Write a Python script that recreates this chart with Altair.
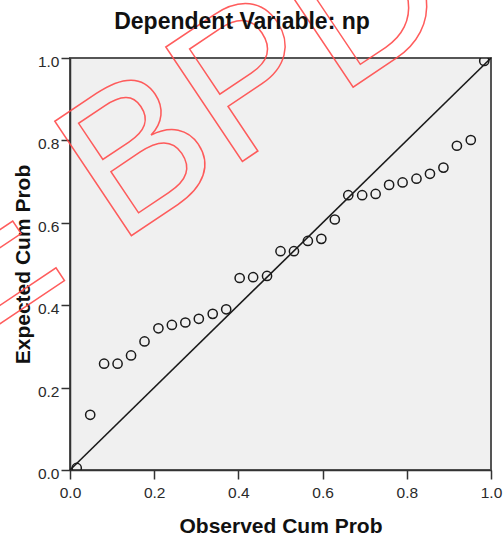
import altair as alt
import pandas as pd

# Observed cumulative probability (x) and expected cumulative probability (y)
observed = [0.016, 0.048, 0.081, 0.113, 0.145, 0.177, 0.210, 0.242, 0.274, 0.306,
            0.339, 0.371, 0.403, 0.435, 0.468, 0.500, 0.532, 0.565, 0.597, 0.629,
            0.661, 0.694, 0.726, 0.758, 0.790, 0.823, 0.855, 0.887, 0.919, 0.952,
            0.984]
expected = [0.005, 0.134, 0.258, 0.258, 0.278, 0.312, 0.344, 0.352, 0.358, 0.367,
            0.379, 0.390, 0.466, 0.468, 0.471, 0.531, 0.531, 0.556, 0.561, 0.608,
            0.667, 0.667, 0.670, 0.692, 0.698, 0.707, 0.719, 0.734, 0.787, 0.801,
            0.993]
ref_line_x = [0.0, 1.0]
ref_line_y = [0.0, 1.0]
tick_values = [0.0, 0.2, 0.4, 0.6, 0.8, 1.0]
chart_title = "Dependent Variable: np"
x_title = "Observed Cum Prob"
y_title = "Expected Cum Prob"
watermark_text = "E BPD"

pts = pd.DataFrame({"observed": observed, "expected": expected})
diag = pd.DataFrame({"observed": ref_line_x, "expected": ref_line_y})
one = pd.DataFrame({"k": [0]})

FONT = "Liberation Sans"

x_enc = alt.X(
    "observed:Q",
    scale=alt.Scale(domain=[0, 1], nice=False, zero=False),
    axis=alt.Axis(
        values=tick_values, format=".1f", title=x_title,
        tickSize=9, tickWidth=1.5, tickColor="#333333",
        labelFont=FONT, labelFontSize=15.5, labelColor="#2a2a2a",
        labelBaseline="alphabetic", labelPadding=18,
        labelFlush=False, labelOverlap=False, grid=False,
        domainColor="#333333", domainWidth=1.5,
        titleFont=FONT, titleFontSize=21, titleFontWeight="bold", titleColor="#111111",
        titleX=210.5, titleY=62.5, titleBaseline="alphabetic", titleAlign="center",
    ),
)
y_enc = alt.Y(
    "expected:Q",
    scale=alt.Scale(domain=[0, 1], nice=False, zero=False),
    axis=alt.Axis(
        values=tick_values, format=".1f", title=y_title,
        tickSize=9, tickWidth=1.5, tickColor="#333333",
        labelFont=FONT, labelFontSize=15.5, labelColor="#2a2a2a",
        labelBaseline="middle", labelAlign="right", labelPadding=2, labelOffset=3.5,
        labelFlush=False, labelOverlap=False, grid=False,
        domainColor="#333333", domainWidth=1.5,
        titleFont=FONT, titleFontSize=21, titleFontWeight="bold", titleColor="#111111",
        titleAngle=270, titleX=-41, titleY=206, titleBaseline="alphabetic", titleAlign="center",
    ),
)

points = alt.Chart(pts).mark_point(
    shape="circle", filled=False, color="#1a1a1a", strokeWidth=1.5, size=85,
    opacity=1, clip=True,
).encode(x=x_enc, y=y_enc)

line = alt.Chart(diag).mark_line(color="#1a1a1a", strokeWidth=1.6).encode(
    x="observed:Q", y="expected:Q"
)

watermark = alt.Chart(one).mark_text(
    text=watermark_text, font=FONT, fontSize=200, angle=326.2,
    align="left", baseline="alphabetic",
    fillOpacity=0, stroke="#ff4a4a", strokeWidth=1.5, strokeOpacity=0.9,
).encode(x=alt.value(-109.2), y=alt.value(291.9))

title = alt.Chart(one).mark_text(
    text=chart_title, font=FONT, fontSize=23, fontWeight="bold", color="#111111",
    align="center", baseline="alphabetic",
).encode(x=alt.value(172), y=alt.value(-28.7))

chart = alt.layer(points, line, watermark, title).properties(
    width=421, height=412,
    autosize=alt.AutoSizeParams(type="none"),
    padding={"left": 70, "top": 58, "right": 13, "bottom": 71},
    background="white",
).configure_view(
    fill="#f0f0f0", stroke="#555555", strokeWidth=2
)

chart.save("out.html", embed_options={"renderer": "svg", "actions": False})
